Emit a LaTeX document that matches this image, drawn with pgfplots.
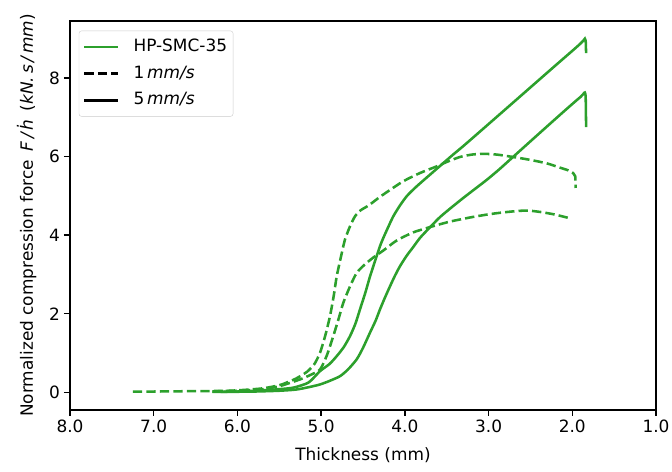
\documentclass[border=0pt]{standalone}
\usepackage{fontspec}
\setmainfont{DejaVu Sans}
\usepackage{pgfplots}
\pgfplotsset{compat=1.18}
\usetikzlibrary{calc}
\definecolor{tabgreen}{HTML}{2CA02C}
\begin{document}
\fontsize{17}{20}\selectfont
\begin{tikzpicture}
\begin{axis}[name=ax, scale only axis, width=586bp, height=389bp,
  xmin=1, xmax=8, x dir=reverse, ymin=-0.45, ymax=9.45,
  xtick={1,2,3,4,5,6,7,8},
  xticklabels={1.0,2.0,3.0,4.0,5.0,6.0,7.0,8.0},
  ytick={0,2,4,6,8},
  tick align=outside, tick pos=left, major tick length=6bp,
  tick style={black, line width=1.36bp},
  axis line style={line width=1.36bp},
  /pgf/number format/assume math mode=true,
  ticklabel style={font=\fontsize{17}{20}\selectfont},
  xticklabel style={inner ysep=4bp},
  yticklabel style={inner xsep=4bp},
  xlabel={Thickness (mm)},
  ylabel={Normalized compression force\enspace{\itshape F\,/\,ḣ}\enspace(\textit{kN.\,s\,/\,mm})},
  label style={font=\fontsize{17}{20}\selectfont},
  ylabel style={at={(axis description cs:-0.074,0.5)}, anchor=center},
  xlabel style={at={(axis description cs:0.5,-0.115)}, anchor=center},
  legend cell align=left,
  legend style={at={(0.015,0.975)}, anchor=north west, draw=black!20, rounded corners=2.5bp,
    fill=white, fill opacity=0.8, text opacity=1, row sep=7bp, column sep=12bp,
    inner xsep=4bp, inner ysep=6bp,
    nodes={inner sep=2bp, text depth=0.2em},
    font=\fontsize{17}{20}\selectfont},
  legend image code/.code={\draw[#1] (0bp,0bp) -- (34bp,0bp);},
]
\addlegendimage{tabgreen, line width=2.55bp}
\addlegendentry{HP-SMC-35}
\addlegendimage{black, line width=2.55bp, dash pattern=on 9.4bp off 4.1bp}
\addlegendentry{1\,\textit{mm/s}}
\addlegendimage{black, line width=2.55bp}
\addlegendentry{5\,\textit{mm/s}}

% 1 mm/s, upper
\addplot[tabgreen, line width=2.55bp, dash pattern=on 9.4bp off 4.1bp, smooth, tension=0.4, forget plot] coordinates {
(6.3,0.02) (6.0,0.05) (5.7,0.1) (5.5,0.18) (5.41,0.25) (5.3,0.35) (5.17,0.52) (5.08,0.72)
(5.013,1.01) (4.95,1.45) (4.894,1.94) (4.85,2.45) (4.814,2.95) (4.76,3.48) (4.715,3.89)
(4.65,4.25) (4.595,4.48) (4.53,4.63) (4.43,4.76) (4.3,4.97) (4.177,5.15) (4.02,5.37)
(3.82,5.58) (3.62,5.75) (3.48,5.88) (3.34,5.99) (3.2,6.05) (3.06,6.07) (2.9,6.05) (2.74,6.0)
(2.54,5.93) (2.31,5.83) (2.15,5.72) (2.05,5.65) (1.99,5.58) (1.965,5.5) (1.96,5.2)
};
% 1 mm/s, lower
\addplot[tabgreen, line width=2.55bp, dash pattern=on 9.4bp off 4.1bp, smooth, tension=0.4, forget plot] coordinates {
(7.25,0.02) (7.0,0.02) (6.5,0.03) (6.0,0.04) (5.7,0.08) (5.49,0.16) (5.25,0.33) (5.12,0.45)
(5.013,0.58) (4.93,0.95) (4.855,1.43) (4.79,1.88) (4.735,2.28) (4.65,2.72) (4.575,3.04)
(4.48,3.25) (4.377,3.43) (4.25,3.62) (4.1,3.86) (3.9,4.07) (3.66,4.23) (3.45,4.35) (3.22,4.45)
(3.0,4.53) (2.82,4.58) (2.62,4.62) (2.5,4.62) (2.35,4.58) (2.2,4.52) (2.01,4.42)
};
% 5 mm/s, upper
\addplot[tabgreen, line width=2.55bp, smooth, tension=0.4, forget plot] coordinates {
(6.3,0.01) (6.0,0.02) (5.7,0.05) (5.5,0.08) (5.33,0.12) (5.15,0.25) (5.013,0.54) (4.9,0.72)
(4.814,0.92) (4.73,1.15) (4.655,1.43) (4.59,1.75) (4.536,2.11) (4.47,2.55) (4.416,2.95)
(4.35,3.38) (4.297,3.72) (4.257,3.93) (4.2,4.2) (4.138,4.48) (4.06,4.75) (3.978,4.99)
(3.88,5.2) (3.78,5.39) (3.68,5.575) (3.58,5.76) (3.44,6.02) (3.30,6.27) (3.063,6.71) (2.80,7.2)
(2.5,7.76) (2.2,8.32) (2.0,8.69) (1.9,8.88) (1.865,8.96) (1.85,9.0) (1.84,8.95) (1.835,8.63)
};
% 5 mm/s, lower
\addplot[tabgreen, line width=2.55bp, smooth, tension=0.4, forget plot] coordinates {
(6.2,0.01) (5.8,0.02) (5.5,0.04) (5.3,0.07) (5.15,0.13) (5.013,0.20) (4.9,0.29) (4.775,0.41)
(4.68,0.58) (4.575,0.84) (4.5,1.13) (4.416,1.52) (4.35,1.82) (4.297,2.11) (4.24,2.4)
(4.177,2.70) (4.12,2.96) (4.058,3.21) (3.98,3.47) (3.899,3.70) (3.819,3.93) (3.7,4.2)
(3.58,4.46) (3.44,4.71) (3.30,4.95) (3.16,5.18) (3.02,5.41) (2.88,5.66) (2.744,5.92)
(2.525,6.34) (2.3,6.77) (2.1,7.15) (1.95,7.43) (1.9,7.52) (1.865,7.6) (1.85,7.63) (1.84,7.5) (1.835,6.75)
};
\end{axis}
\pgfresetboundingbox
\path[use as bounding box] ($(ax.south west)+(-70bp,-62bp)$) rectangle ($(ax.north east)+(16bp,21bp)$);
\end{tikzpicture}
\end{document}
